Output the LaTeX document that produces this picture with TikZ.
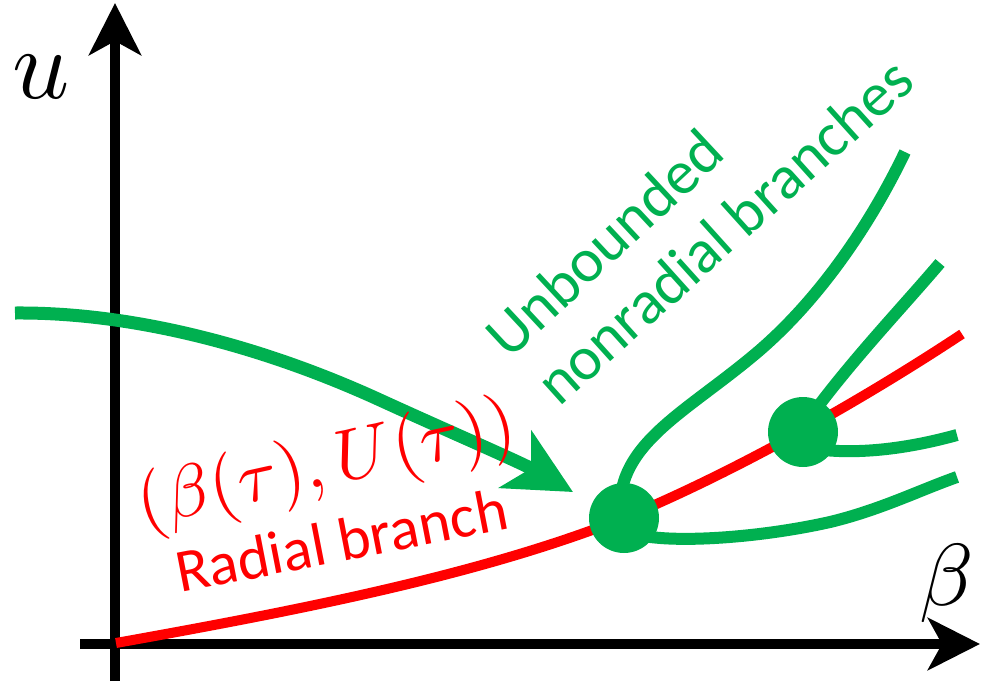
\documentclass[tikz,border=0pt]{standalone}
\usepackage[no-math]{fontspec}
\setmainfont{Carlito}
\usepackage{tikz}
\usetikzlibrary{arrows.meta}
\definecolor{brgreen}{HTML}{00B050}
\definecolor{brred}{HTML}{FF0000}

\begin{document}
\begin{tikzpicture}[x=1pt,y=-1pt,
  axis/.style={line width=10.5pt,-{Stealth[length=52pt,width=52pt,inset=14pt]}},
  radial/.style={brred,line width=10pt},
  nonrad/.style={brgreen,line width=12pt},
  bif/.style={circle,fill=brgreen,minimum size=70pt,inner sep=0pt},
  lbl/.style={inner sep=0pt,font=\fontsize{62}{62}\selectfont}]
\useasboundingbox (0,0) rectangle (989,681);
\draw[axis] (115,681)--(115,3);
\draw[axis] (80,644)--(980,644);
\node (ulab) at (41,77) {\scalebox{10}{$u$}};
\node (blab) at (947,583) {\scalebox{8.8}{$\beta$}};
% radial branch
\draw[radial] (116,643) .. controls (300,610) and (480,575) .. (624,518) .. controls (740,470) and (870,395) .. (962,334);
% nonradial branches
\draw[nonrad] (620,505) .. controls (622,440) and (690,410) .. (760,350) .. controls (820,298) and (870,225) .. (905,152);
\draw[nonrad] (624,530) .. controls (650,545) and (750,540) .. (830,522) .. controls (880,510) and (920,490) .. (957,477);
\draw[nonrad] (808,420) .. controls (850,362) and (900,310) .. (940,263);
\draw[nonrad] (815,449) .. controls (860,455) and (910,448) .. (957,435);
\node[bif] (b1) at (624,518) {};
\node[bif] (b2) at (803,432) {};
% arrow to the first bifurcation
\draw[brgreen,line width=13pt,-{Stealth[length=66pt,width=65pt,inset=18pt]}] (15,313) .. controls (130,312) and (260,345) .. (380,400) .. controls (450,432) and (520,462) .. (573,492);
% labels
\node[brred,inner sep=0pt,rotate=12.5] (curve) at (327,467) {\scalebox{7.3}{$(\beta(\tau),U(\tau))$}};
\node[brred,lbl,rotate=11,anchor=base west,font=\fontsize{61}{61}\selectfont] (rad) at (180,593) {Radial branch};
\node[brgreen,lbl,rotate=43] (unb) at (604,243) {Unbounded};
\node[brgreen,lbl,rotate=42] (nonr) at (724,231) {nonradial branches};
\end{tikzpicture}
\end{document}
